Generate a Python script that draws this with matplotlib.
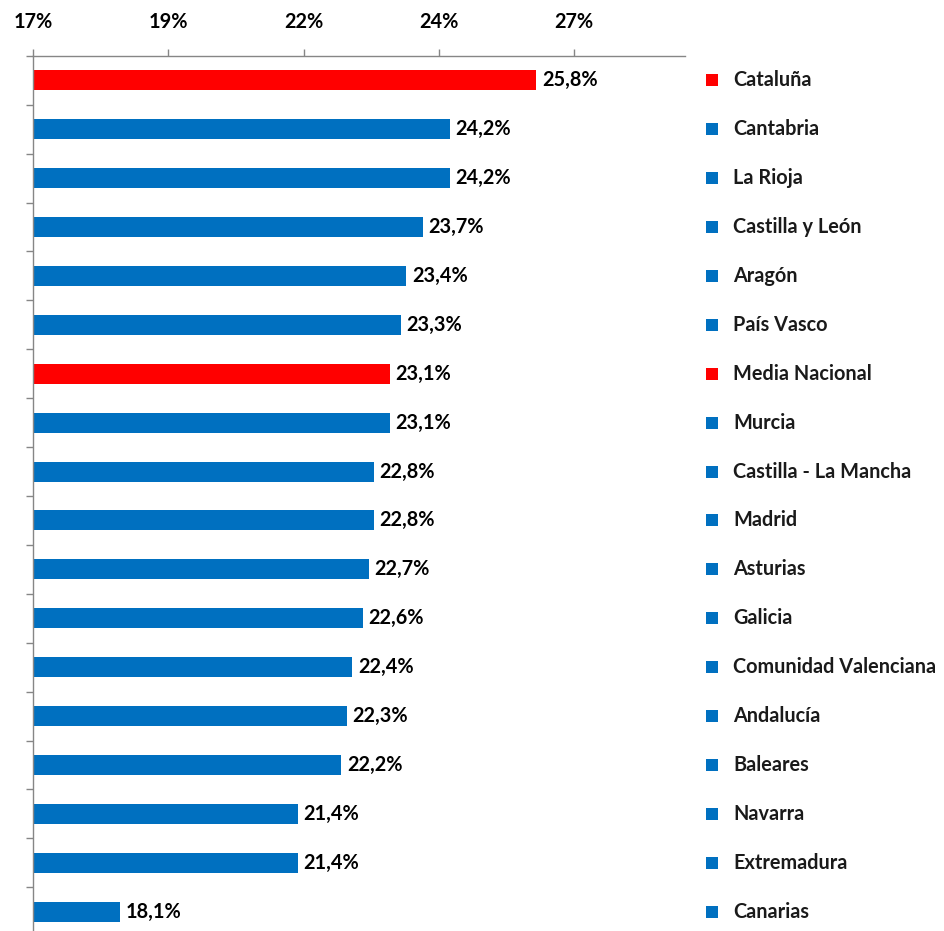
import matplotlib.pyplot as plt
import matplotlib.transforms as mtransforms
from matplotlib.ticker import FixedLocator, FixedFormatter

# datos (fracción), de arriba a abajo
regiones = ["Cataluña", "Cantabria", "La Rioja", "Castilla y León", "Aragón",
            "País Vasco", "Media Nacional", "Murcia", "Castilla - La Mancha",
            "Madrid", "Asturias", "Galicia", "Comunidad Valenciana", "Andalucía",
            "Baleares", "Navarra", "Extremadura", "Canarias"]
valores = [0.258, 0.242, 0.242, 0.237, 0.234, 0.233, 0.231, 0.231, 0.228,
           0.228, 0.227, 0.226, 0.224, 0.223, 0.222, 0.214, 0.214, 0.181]
destacados = ["Cataluña", "Media Nacional"]

ticks = [0.165, 0.19, 0.215, 0.24, 0.265]
tick_labels = ["17%", "19%", "22%", "24%", "27%"]

ROJO = "#FF0000"
AZUL = "#0070C0"
FUENTE = "Lato"
TAM = 14.3

colores = [ROJO if r in destacados else AZUL for r in regiones]
posiciones = list(range(len(regiones)))

fig = plt.figure(figsize=(9.44, 9.31), dpi=100)
ax = fig.add_axes([0.035, -0.0055, 0.6907, 0.9455])

inicio = 0.165
ax.barh(posiciones, [v - inicio for v in valores], left=inicio, height=0.41,
        color=colores, edgecolor="none")
ax.set_xlim(0.165, 0.2855)
ax.set_ylim(len(regiones) - 0.5, -0.5)

# etiquetas de datos
for p, v in zip(posiciones, valores):
    txt = f"{v * 100:.1f}%".replace(".", ",")
    ax.annotate(txt, (v, p), xytext=(4, 0), textcoords="offset points",
                va="center", ha="left", fontsize=TAM, fontweight="bold",
                family=FUENTE, color="black")

# eje superior
ax.xaxis.tick_top()
ax.xaxis.set_major_locator(FixedLocator(ticks))
ax.xaxis.set_major_formatter(FixedFormatter(tick_labels))
ax.tick_params(axis="x", direction="out", length=5, width=1, color="#868686",
               pad=12, labelsize=TAM)
for lbl in ax.get_xticklabels():
    lbl.set_fontweight("bold")
    lbl.set_family(FUENTE)

# eje vertical con marcas entre categorías
ax.set_yticks([])
ax.set_yticks([p + 0.5 for p in posiciones[:-1]] + [-0.5], minor=True)
ax.tick_params(axis="y", which="minor", direction="out", length=5, width=1,
               color="#868686")
ax.tick_params(axis="y", which="major", left=False, labelleft=False)

for lado in ["right", "bottom"]:
    ax.spines[lado].set_visible(False)
for lado in ["top", "left"]:
    ax.spines[lado].set_color("#868686")
    ax.spines[lado].set_linewidth(1)

# leyenda alineada con las barras
trans = mtransforms.blended_transform_factory(ax.transAxes, ax.transData)
for p, r, c in zip(posiciones, regiones, colores):
    ax.scatter([1.0414], [p], marker="s", s=75, color=c, transform=trans,
               clip_on=False, linewidths=0)
    ax.text(1.0736, p, r, transform=trans, va="center", ha="left",
            fontsize=TAM, fontweight="bold", family=FUENTE, color="#1a1a1a")

fig.savefig("out.png", dpi=100)
